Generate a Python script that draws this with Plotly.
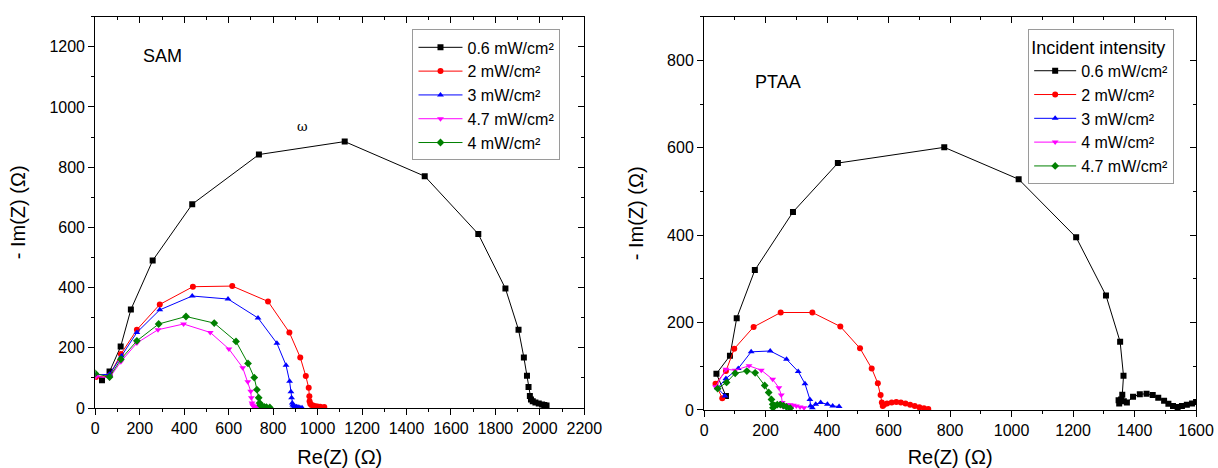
import plotly.graph_objects as go

# ---------------- data: SAM (left panel) ----------------
sam_x_06 = [30, 64, 114, 160, 258, 436, 736, 1122, 1482, 1723, 1845, 1904, 1928, 1942, 1949, 1955, 1960, 1968, 1980, 1995, 2010, 2020, 2030]
sam_y_06 = [92, 121, 204, 327, 490, 677, 842, 885, 770, 578, 397, 260, 168, 107, 70, 40, 28, 22, 18, 15, 12, 10, 8]
sam_x_2 = [3, 64, 115, 187, 290, 439, 616, 777, 873, 922, 947, 960, 963, 964, 967, 972, 980, 990, 1000, 1012, 1030]
sam_y_2 = [103, 108, 179, 260, 344, 403, 405, 354, 251, 168, 106, 67, 39, 22, 14, 10, 8, 6, 5, 4, 3]
sam_x_3 = [3, 64, 118, 187, 290, 436, 597, 732, 817, 858, 874, 880, 883, 886, 888, 892, 898, 905, 912, 920, 930]
sam_y_3 = [110, 112, 173, 251, 326, 372, 362, 299, 215, 142, 89, 54, 34, 17, 10, 7, 5, 4, 3, 2, 1]
sam_x_47 = [3, 64, 115, 187, 282, 397, 517, 601, 663, 686, 699, 702, 705, 707, 710, 714, 718, 722, 728]
sam_y_47 = [105, 100, 154, 216, 260, 279, 251, 196, 134, 87, 56, 34, 17, 10, 7, 5, 4, 3, 2]
sam_x_4 = [0, 64, 115, 187, 285, 408, 535, 633, 687, 715, 727, 735, 739, 742, 746, 752, 760, 770, 785]
sam_y_4 = [115, 103, 162, 223, 279, 304, 282, 221, 148, 101, 61, 34, 17, 10, 7, 5, 4, 3, 2]

# ---------------- data: PTAA (right panel) ----------------
ptaa_x_06 = [71, 40, 84, 106, 165, 289, 435, 781, 1023, 1210, 1307, 1353, 1364, 1360, 1350, 1348, 1356, 1365, 1375, 1395, 1417, 1439, 1459, 1477, 1496, 1510, 1525, 1540, 1554, 1570, 1587, 1600]
ptaa_y_06 = [32, 83, 124, 210, 320, 453, 565, 601, 528, 395, 262, 156, 78, 35, 15, 22, 24, 20, 17, 30, 36, 37, 34, 28, 21, 14, 9, 7, 9, 12, 15, 18]
ptaa_x_2 = [59, 37, 71, 98, 161, 249, 352, 443, 507, 545, 565, 574, 578, 581, 585, 595, 610, 625, 640, 655, 670, 685, 700, 715, 729]
ptaa_y_2 = [27, 60, 89, 140, 190, 223, 223, 191, 141, 95, 61, 34, 17, 9, 12, 15, 17, 18, 17, 15, 12, 9, 6, 4, 2]
ptaa_x_3 = [68, 44, 71, 111, 153, 215, 268, 306, 328, 344, 346, 352, 363, 379, 401, 418, 439]
ptaa_y_3 = [32, 50, 72, 95, 133, 135, 116, 88, 60, 24, 9, 5, 13, 17, 13, 9, 8]
ptaa_x_4 = [37, 71, 101, 146, 186, 223, 243, 251, 254, 256, 262, 270, 280, 290, 300, 312, 325]
ptaa_y_4 = [53, 93, 91, 101, 91, 70, 51, 34, 17, 8, 10, 12, 12, 11, 9, 7, 5]
ptaa_x_47 = [44, 73, 101, 139, 166, 197, 210, 219, 223, 224, 230, 238, 248, 258, 268, 280]
ptaa_y_47 = [49, 63, 84, 89, 85, 56, 40, 24, 13, 5, 10, 12, 12, 10, 7, 4]

sam_labels = ["0.6 mW/cm²", "2 mW/cm²", "3 mW/cm²", "4.7 mW/cm²", "4 mW/cm²"]
ptaa_labels = ["0.6 mW/cm²", "2 mW/cm²", "3 mW/cm²", "4 mW/cm²", "4.7 mW/cm²"]

FONT = "Arial, Liberation Sans, sans-serif"

fig = go.Figure()

sam_series = [
    (sam_x_06, sam_y_06, "#000000", "square"),
    (sam_x_2, sam_y_2, "#ff0000", "circle"),
    (sam_x_3, sam_y_3, "#0000ff", "triangle-up"),
    (sam_x_47, sam_y_47, "#ff00ff", "triangle-down"),
    (sam_x_4, sam_y_4, "#008000", "diamond"),
]
for (xs, ys, c, sym), name in zip(sam_series, sam_labels):
    fig.add_trace(go.Scatter(
        x=xs, y=ys, mode="lines+markers", name=name,
        line=dict(color=c, width=1), marker=dict(color=c, symbol=sym, size=6),
        xaxis="x", yaxis="y", legend="legend"))

ptaa_series = [
    (ptaa_x_06, ptaa_y_06, "#000000", "square"),
    (ptaa_x_2, ptaa_y_2, "#ff0000", "circle"),
    (ptaa_x_3, ptaa_y_3, "#0000ff", "triangle-up"),
    (ptaa_x_4, ptaa_y_4, "#ff00ff", "triangle-down"),
    (ptaa_x_47, ptaa_y_47, "#008000", "diamond"),
]
for (xs, ys, c, sym), name in zip(ptaa_series, ptaa_labels):
    fig.add_trace(go.Scatter(
        x=xs, y=ys, mode="lines+markers", name=name,
        line=dict(color=c, width=1), marker=dict(color=c, symbol=sym, size=6),
        xaxis="x2", yaxis="y2", legend="legend2"))

W, H = 1218, 468
def px_x(p):
    return p / W
def px_y(p):
    return 1 - p / H

tickfont = dict(family=FONT, size=16, color="#000")
titlefont = dict(family=FONT, size=20, color="#000")

def main_axis(rng, dom, dtick, anchor, title, standoff):
    return dict(
        range=rng, domain=dom, dtick=dtick, tick0=0, anchor=anchor,
        showline=True, linecolor="#000", linewidth=1.2,
        ticks="outside", ticklen=6, tickwidth=1.2, tickcolor="#000",
        minor=dict(ticks="outside", ticklen=3, dtick=dtick / 2, tickcolor="#000", tickwidth=1.2),
        showgrid=False, zeroline=False, tickfont=tickfont,
        title=dict(text=title, font=titlefont, standoff=standoff),
    )

def mirror_axis(rng, dom, dtick, anchor, overlay, side):
    return dict(
        range=rng, domain=dom, dtick=dtick, tick0=0, anchor=anchor,
        overlaying=overlay, side=side,
        showline=True, linecolor="#000", linewidth=1.2,
        ticks="inside", ticklen=6, tickwidth=1.2, tickcolor="#000",
        minor=dict(ticks="inside", ticklen=3, dtick=dtick / 2, tickcolor="#000", tickwidth=1.2),
        showgrid=False, zeroline=False, showticklabels=False,
    )

xd1 = [px_x(93), px_x(591)]
yd1 = [px_y(416), px_y(17)]
xd2 = [px_x(713), px_x(1214)]
yd2 = [px_y(418), px_y(17)]

fig.update_layout(
    width=W, height=H,
    margin=dict(l=0, r=0, t=0, b=0),
    paper_bgcolor="white", plot_bgcolor="white",
    font=dict(family=FONT, color="#000"),
    xaxis=main_axis([0, 2200], xd1, 200, "y", "Re(Z) (Ω)", 14),
    yaxis=main_axis([0, 1300], yd1, 200, "x", "- Im(Z) (Ω)", 18),
    xaxis2=main_axis([0, 1600], xd2, 200, "y2", "Re(Z) (Ω)", 14),
    yaxis2=main_axis([0, 900], yd2, 200, "x2", "- Im(Z) (Ω)", 18),
    xaxis3=mirror_axis([0, 2200], xd1, 200, "y", "x", "top"),
    yaxis3=mirror_axis([0, 1300], yd1, 200, "x", "y", "right"),
    xaxis4=mirror_axis([0, 1600], xd2, 200, "y2", "x2", "top"),
    yaxis4=mirror_axis([0, 900], yd2, 200, "x2", "y2", "right"),
    legend=dict(
        x=px_x(416), y=px_y(30), xanchor="left", yanchor="top",
        bordercolor="#9a9a9a", borderwidth=1, bgcolor="white",
        font=dict(family=FONT, size=16, color="#000"),
        tracegroupgap=0, itemwidth=44,
    ),
    legend2=dict(
        x=px_x(1043), y=px_y(30), xanchor="left", yanchor="top",
        bordercolor="#9a9a9a", borderwidth=1, bgcolor="white",
        font=dict(family=FONT, size=16, color="#000"),
        title=dict(text="Incident intensity", font=dict(family=FONT, size=18, color="#000")),
        tracegroupgap=0, itemwidth=42,
    ),
    showlegend=True,
)

# dummy traces so overlay axes are drawn
fig.add_trace(go.Scatter(x=[None], y=[None], xaxis="x3", yaxis="y3", showlegend=False, hoverinfo="skip"))
fig.add_trace(go.Scatter(x=[None], y=[None], xaxis="x4", yaxis="y4", showlegend=False, hoverinfo="skip"))

fig.add_annotation(text="SAM", x=px_x(140), y=px_y(57), xref="paper", yref="paper",
                   xanchor="left", yanchor="middle", showarrow=False,
                   font=dict(family=FONT, size=18, color="#000"))
fig.add_annotation(text="PTAA", x=px_x(763), y=px_y(84), xref="paper", yref="paper",
                   xanchor="left", yanchor="middle", showarrow=False,
                   font=dict(family=FONT, size=18, color="#000"))
fig.add_annotation(text="ω", x=px_x(304), y=px_y(129), xref="paper", yref="paper",
                   xanchor="center", yanchor="middle", showarrow=False,
                   font=dict(family="DejaVu Serif, serif", size=13, color="#000"))

fig.write_html("out.html")
